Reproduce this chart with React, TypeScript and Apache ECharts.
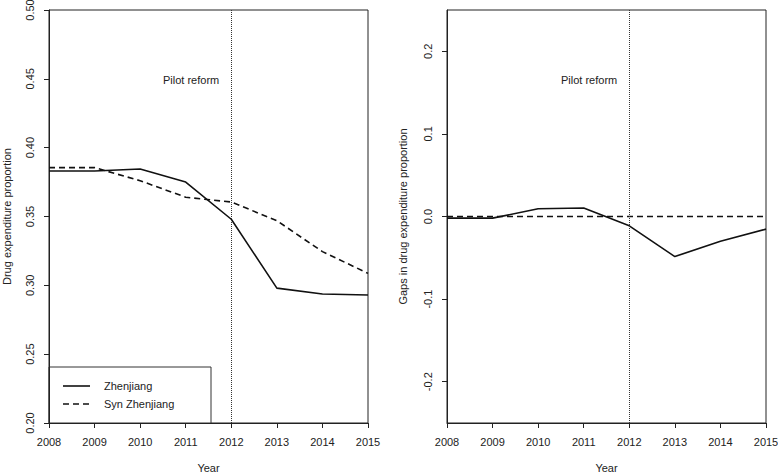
import React, { useEffect, useRef } from "react";
import * as echarts from "echarts";

const years = [2008, 2009, 2010, 2011, 2012, 2013, 2014, 2015];
const zhenjiang = [0.383, 0.383, 0.3845, 0.375, 0.348, 0.298, 0.2937, 0.293];
const synZhenjiang = [0.3855, 0.3855, 0.376, 0.364, 0.3605, 0.347, 0.3245, 0.3087];
const gapZhenjiang = [-0.002, -0.002, 0.0093, 0.0103, -0.0113, -0.0485, -0.030, -0.0153];
const gapSyn = [0, 0, 0, 0, 0, 0, 0, 0];
const reformYear = 2012;
const leftYTicks = [0.2, 0.25, 0.3, 0.35, 0.4, 0.45, 0.5];
const rightYTicks = [-0.2, -0.1, 0, 0.1, 0.2];
const legendNames = ["Zhenjiang", "Syn Zhenjiang"];

const FONT = "'Liberation Sans', Arial, sans-serif";
const TXT = "#222";
const AX = "#222";
const DASH = [6, 4];

function pairs(xs: number[], ys: number[]) {
  return xs.map((x, i) => [x, ys[i]]);
}

export default function App() {
  const ref = useRef<HTMLDivElement>(null);
  useEffect(() => {
    if (!ref.current) return;
    const chart = echarts.init(ref.current, undefined, { renderer: "svg" });
    const axisCommon = {
      axisLine: { show: true, onZero: false, lineStyle: { color: AX, width: 1 } },
      axisTick: { show: true, inside: false, length: 5, lineStyle: { color: AX, width: 1 } },
      splitLine: { show: false },
    };
    const xAxis = (gridIndex: number) => ({
      type: "value",
      gridIndex,
      min: 2008,
      max: 2015,
      interval: 1,
      name: "Year",
      nameLocation: "middle",
      nameGap: 39,
      nameTextStyle: { fontFamily: FONT, fontSize: 11, color: TXT },
      ...axisCommon,
      axisLabel: { margin: 13, fontFamily: FONT, fontSize: 11, color: TXT, formatter: (v: number) => String(v) },
    });
    const markLine = {
      silent: true,
      symbol: "none",
      label: { show: false },
      lineStyle: { type: "dotted", color: "#333", width: 1 },
      data: [{ xAxis: reformYear }],
    };
    const gridCommon = {
      top: 10,
      bottom: 50,
      show: true,
      borderColor: AX,
      borderWidth: 1,
      backgroundColor: "transparent",
      containLabel: false,
      outerBoundsMode: "none",
    };
    const option: any = {
      animation: false,
      backgroundColor: "#fff",
      textStyle: { fontFamily: FONT },
      grid: [
        { ...gridCommon, left: 49, right: 410 },
        { ...gridCommon, left: 447, right: 12 },
      ],
      xAxis: [xAxis(0), xAxis(1)],
      yAxis: [
        {
          type: "value",
          gridIndex: 0,
          min: 0.2,
          max: 0.5,
          interval: 0.05,
          name: "Drug expenditure proportion",
          nameLocation: "middle",
          nameGap: 37,
          nameTextStyle: { fontFamily: FONT, fontSize: 11, color: TXT },
          ...axisCommon,
          axisTick: { ...axisCommon.axisTick, customValues: leftYTicks },
          axisLabel: {
            rotate: 90,
            margin: 14,
            fontFamily: FONT,
            fontSize: 11,
            color: TXT,
            customValues: leftYTicks,
            formatter: (v: number) => v.toFixed(2),
          },
        },
        {
          type: "value",
          gridIndex: 1,
          min: -0.25,
          max: 0.25,
          name: "Gaps in drug expenditure proportion",
          nameLocation: "middle",
          nameGap: 39,
          nameTextStyle: { fontFamily: FONT, fontSize: 11, color: TXT },
          ...axisCommon,
          axisTick: { ...axisCommon.axisTick, customValues: rightYTicks },
          axisLabel: {
            rotate: 90,
            margin: 14,
            fontFamily: FONT,
            fontSize: 11,
            color: TXT,
            customValues: rightYTicks,
            formatter: (v: number) => (Math.abs(v) < 1e-9 ? "0.0" : v.toFixed(1)),
          },
        },
      ],
      graphic: [
        {
          type: "group",
          z: 20,
          children: [
            {
              type: "rect",
              shape: { x: 49, y: 367, width: 162, height: 56 },
              style: { fill: "#fff", stroke: "#333", lineWidth: 1 },
            },
            {
              type: "line",
              shape: { x1: 63, y1: 386, x2: 90, y2: 386 },
              style: { stroke: "#111", lineWidth: 1.6 },
            },
            {
              type: "text",
              x: 104,
              y: 386,
              style: { text: legendNames[0], fontFamily: FONT, fontSize: 11, fill: TXT, verticalAlign: "middle" },
            },
            {
              type: "line",
              shape: { x1: 63, y1: 404, x2: 90, y2: 404 },
              style: { stroke: "#111", lineWidth: 1.6, lineDash: DASH },
            },
            {
              type: "text",
              x: 104,
              y: 404,
              style: { text: legendNames[1], fontFamily: FONT, fontSize: 11, fill: TXT, verticalAlign: "middle" },
            },
          ],
        },
        {
          type: "text",
          left: 163,
          top: 74,
          style: { text: "Pilot reform", fontFamily: FONT, fontSize: 11, fill: TXT },
        },
        {
          type: "text",
          left: 561,
          top: 74,
          style: { text: "Pilot reform", fontFamily: FONT, fontSize: 11, fill: TXT },
        },
      ],
      series: [
        {
          name: legendNames[0],
          type: "line",
          xAxisIndex: 0,
          yAxisIndex: 0,
          data: pairs(years, zhenjiang),
          symbol: "none",
          lineStyle: { color: "#111", width: 1.6, type: "solid" },
          itemStyle: { color: "#111" },
          markLine,
        },
        {
          name: legendNames[1],
          type: "line",
          xAxisIndex: 0,
          yAxisIndex: 0,
          data: pairs(years, synZhenjiang),
          symbol: "none",
          lineStyle: { color: "#111", width: 1.6, type: DASH },
          itemStyle: { color: "#111" },
        },
        {
          name: "Zhenjiang gap",
          type: "line",
          xAxisIndex: 1,
          yAxisIndex: 1,
          data: pairs(years, gapZhenjiang),
          symbol: "none",
          lineStyle: { color: "#111", width: 1.6, type: "solid" },
          itemStyle: { color: "#111" },
          markLine,
        },
        {
          name: "Syn Zhenjiang gap",
          type: "line",
          xAxisIndex: 1,
          yAxisIndex: 1,
          data: pairs(years, gapSyn),
          symbol: "none",
          lineStyle: { color: "#111", width: 1.6, type: DASH },
          itemStyle: { color: "#111" },
        },
      ],
    };
    chart.setOption(option);
    return () => chart.dispose();
  }, []);
  return <div ref={ref} style={{ width: 778, height: 473, position: "absolute", left: 0, top: 0 }} />;
}
